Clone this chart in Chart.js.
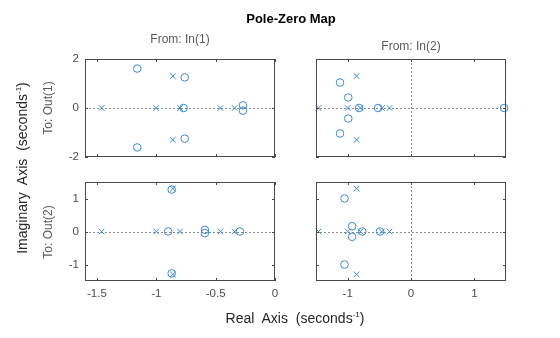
<!DOCTYPE html>
<html><head><meta charset="utf-8">
<script src="https://cdn.jsdelivr.net/npm/chart.js@4.4.1/dist/chart.umd.min.js"></script>
<style>
html,body{margin:0;padding:0;background:#fff;}
#wrap{position:relative;width:560px;height:338px;overflow:hidden;font-family:"Liberation Sans",Arial,sans-serif;}
canvas{position:absolute;left:0;top:0;}
.t{position:absolute;white-space:nowrap;transform:translate(-50%,-50%);}
.v{position:absolute;white-space:nowrap;transform:translate(-50%,-50%) rotate(-90deg);}
</style></head><body>
<div id="wrap">
<canvas id="c11" width="560" height="338"></canvas>
<canvas id="c12" width="560" height="338"></canvas>
<canvas id="c21" width="560" height="338"></canvas>
<canvas id="c22" width="560" height="338"></canvas>
<div class="t" style="left:291px;top:18px;font-weight:bold;font-size:13px;color:#000">Pole-Zero Map</div>
<div class="t" style="left:180px;top:39px;font-size:12px;color:#5a5a5a">From: In(1)</div>
<div class="t" style="left:411px;top:46px;font-size:12px;color:#5a5a5a">From: In(2)</div>
<div class="v" style="left:22px;top:168px;font-size:14px;color:#262626;word-spacing:4px">Imaginary Axis (seconds<sup style="font-size:8px">-1</sup>)</div>
<div class="v" style="left:48px;top:108px;font-size:12px;color:#5a5a5a">To: Out(1)</div>
<div class="v" style="left:48px;top:232px;font-size:12px;color:#5a5a5a">To: Out(2)</div>
<div class="t" style="left:295px;top:318px;font-size:14px;color:#262626;word-spacing:4px">Real Axis (seconds<sup style="font-size:8px">-1</sup>)</div>
</div>
<script>
// ---- data ----
const polesRe = [-1.46, -1.0, -0.8, -0.46, -0.34, -0.86, -0.86];
const polesIm = [0, 0, 0, 0, 0, 1.3, -1.3];

const zeros11Re = [-1.16, -1.16, -0.76, -0.76, -0.77, -0.27, -0.27];
const zeros11Im = [1.61, -1.61, 1.25, -1.25, 0, 0.11, -0.11];

const zeros12Re = [-1.12, -1.12, -0.99, -0.99, -0.82, -0.52, 1.47];
const zeros12Im = [1.04, -1.04, 0.43, -0.43, 0, 0, 0];

const zeros21Re = [-0.87, -0.87, -0.9, -0.59, -0.59, -0.295];
const zeros21Im = [1.27, -1.27, 0, 0.05, -0.05, 0];

const zeros22Re = [-1.05, -1.05, -0.93, -0.93, -0.77, -0.49];
const zeros22Im = [1.0, -1.0, 0.16, -0.16, 0, 0];

const xTicksLeft = [-1.5, -1, -0.5, 0];
const xTicksRight = [-1, 0, 1];
const yTicksTop = [-2, 0, 2];
const yTicksBottom = [-1, 0, 1];

const xLimLeft = [-1.6, 0];
const xLimRight = [-1.5, 1.5];
const yLimTop = [-2, 2];
const yLimBottom = [-1.5, 1.5];

// ---- drawing ----
const BLUE = '#3a8ad3';
const BOX = '#484848';
const FONT = {family: '"Liberation Sans", Arial, sans-serif', size: 11.5};

function pts(re, im) { return re.map((r, i) => ({x: r, y: im[i]})); }

const panelPlugin = {
  id: 'panel',
  beforeDatasetsDraw(chart) {
    const a = chart.chartArea, ctx = chart.ctx;
    const xs = chart.scales.x, ys = chart.scales.y;
    ctx.save();
    ctx.strokeStyle = '#8a8a8a';
    ctx.lineWidth = 1;
    ctx.setLineDash([2, 2]);
    const y0 = Math.round(ys.getPixelForValue(0)) + 0.5;
    ctx.beginPath(); ctx.moveTo(a.left, y0); ctx.lineTo(a.right, y0); ctx.stroke();
    const x0 = xs.getPixelForValue(0);
    if (x0 > a.left + 1 && x0 < a.right - 1) {
      const xp = Math.round(x0) + 0.5;
      ctx.beginPath(); ctx.moveTo(xp, a.top); ctx.lineTo(xp, a.bottom); ctx.stroke();
    }
    ctx.restore();
  },
  afterDraw(chart) {
    const a = chart.chartArea, ctx = chart.ctx;
    const o = chart.options.plugins.panel;
    const xs = chart.scales.x, ys = chart.scales.y;
    ctx.save();
    ctx.strokeStyle = BOX;
    ctx.lineWidth = 1;
    ctx.setLineDash([]);
    ctx.strokeRect(a.left + 0.5, a.top + 0.5, a.right - a.left - 1, a.bottom - a.top - 1);
    const L = 3;
    ctx.beginPath();
    o.xt.forEach(v => {
      const p = Math.round(xs.getPixelForValue(v)) + 0.5;
      ctx.moveTo(p, a.bottom); ctx.lineTo(p, a.bottom - L);
      ctx.moveTo(p, a.top); ctx.lineTo(p, a.top + L);
    });
    o.yt.forEach(v => {
      const p = Math.round(ys.getPixelForValue(v)) + 0.5;
      ctx.moveTo(a.left, p); ctx.lineTo(a.left + L, p);
      ctx.moveTo(a.right, p); ctx.lineTo(a.right - L, p);
    });
    ctx.stroke();
    ctx.restore();
  }
};

function makePanel(id, rect, xLim, yLim, xt, yt, zRe, zIm, showX, showY) {
  const YW = 30, XH = 25;
  new Chart(document.getElementById(id), {
    type: 'scatter',
    data: {
      datasets: [
        {label: 'Poles', data: pts(polesRe, polesIm), pointStyle: 'crossRot', pointRadius: 4,
         borderColor: BLUE, backgroundColor: BLUE, pointBorderWidth: 1, clip: 10},
        {label: 'Zeros', data: pts(zRe, zIm), pointStyle: 'circle', pointRadius: 3.8,
         borderColor: BLUE, backgroundColor: 'rgba(0,0,0,0)', pointBorderWidth: 1, clip: 10}
      ]
    },
    options: {
      responsive: false, animation: false, devicePixelRatio: 1,
      layout: {padding: {
        left: rect.l - (showY ? YW : 0), top: rect.t,
        right: 560 - rect.r, bottom: 338 - rect.b - (showX ? XH : 0)}},
      plugins: {legend: {display: false}, tooltip: {enabled: false}, panel: {xt: xt, yt: yt}},
      scales: {
        x: {type: 'linear', min: xLim[0], max: xLim[1], display: showX,
            grid: {display: false, drawTicks: false}, border: {display: false},
            afterBuildTicks: s => { s.ticks = xt.map(v => ({value: v})); },
            afterFit: s => { s.height = showX ? XH : 0; },
            ticks: {autoSkip: false, maxRotation: 0, padding: 6, color: '#4d4d4d', font: FONT,
                    callback: v => String(v)}},
        y: {type: 'linear', min: yLim[0], max: yLim[1], display: showY,
            grid: {display: false, drawTicks: false}, border: {display: false},
            afterBuildTicks: s => { s.ticks = yt.map(v => ({value: v})); },
            afterFit: s => { s.width = showY ? YW : 0; },
            ticks: {autoSkip: false, padding: 6, color: '#4d4d4d', font: FONT,
                    callback: v => String(v)}}
      }
    },
    plugins: [panelPlugin]
  });
}

makePanel('c11', {l: 85, r: 275, t: 59, b: 157}, xLimLeft, yLimTop, xTicksLeft, yTicksTop, zeros11Re, zeros11Im, false, true);
makePanel('c12', {l: 316, r: 506, t: 59, b: 157}, xLimRight, yLimTop, xTicksRight, yTicksTop, zeros12Re, zeros12Im, false, false);
makePanel('c21', {l: 85, r: 275, t: 182, b: 281}, xLimLeft, yLimBottom, xTicksLeft, yTicksBottom, zeros21Re, zeros21Im, true, true);
makePanel('c22', {l: 316, r: 506, t: 182, b: 281}, xLimRight, yLimBottom, xTicksRight, yTicksBottom, zeros22Re, zeros22Im, true, false);
</script>
</body></html>
